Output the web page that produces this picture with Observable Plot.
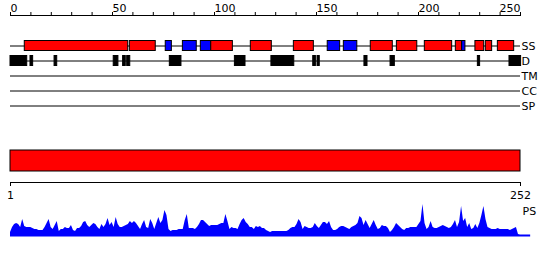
<!DOCTYPE html>
<html><head><meta charset="utf-8">
<script src="https://cdn.jsdelivr.net/npm/d3@7"></script>
<script src="https://cdn.jsdelivr.net/npm/@observablehq/plot@0.6"></script>
<style>
body{margin:0;background:#fff;}
#chart{width:550px;height:260px;position:relative;overflow:hidden;background:#fff}
#chart svg{display:block}
</style></head><body><div id="chart"></div>
<script>
// ---- data ----
const tracks = ["SS", "D", "TM", "CC", "SP"];
const axisLabels = [0, 50, 100, 150, 200, 250];
const axisMax = 250;
const seqStart = 1;
const seqLength = 252;
const psLineEnd = 257;

const ssStart = [7.0, 58.5, 76.1, 84.5, 93.3, 98.4, 117.8, 138.9, 155.5, 163.4, 176.6, 189.4, 203.1, 218.3, 221.4, 227.9, 233.0, 238.9];
const ssEnd   = [57.7, 71.2, 79.1, 91.3, 98.4, 109.0, 128.1, 148.7, 161.6, 170.0, 187.4, 199.4, 216.5, 221.4, 223.0, 232.2, 236.1, 246.9];
const ssType  = ["H", "H", "E", "E", "E", "H", "H", "H", "E", "E", "H", "H", "H", "H", "E", "H", "H", "H"];

const dStart = [0, 9.8, 21.6, 50.6, 55.2, 57.2, 78.1, 110.0, 127.9, 148.4, 150.5, 173.5, 186.3, 229.1, 244.6];
const dEnd   = [8.2, 11.1, 22.9, 52.9, 56.5, 58.7, 83.8, 115.2, 139.1, 149.7, 151.6, 175.0, 188.4, 230.2, 250.3];

const psScores = [
  3, 8, 11, 12, 11, 8, 16, 9, 8, 8,
  8, 7, 6, 6, 5, 5, 5, 8, 12, 16,
  8, 6, 10, 14, 4, 6, 6, 8, 7, 7,
  10, 5, 4, 7, 7, 9, 13, 14, 10, 8,
  10, 12, 11, 8, 6, 11, 8, 11, 17, 10,
  13, 8, 18, 11, 8, 8, 9, 10, 11, 14,
  12, 14, 12, 9, 6, 11, 15, 8, 7, 16,
  12, 6, 12, 18, 12, 15, 25, 20, 6, 4,
  5, 5, 5, 6, 6, 6, 15, 21, 7, 7,
  7, 6, 8, 11, 15, 15, 13, 11, 9, 10,
  10, 10, 10, 11, 12, 12, 21, 14, 6, 8,
  7, 7, 6, 11, 15, 17, 13, 11, 8, 8,
  6, 9, 8, 9, 7, 7, 5, 4, 3, 4,
  4, 4, 4, 4, 4, 4, 4, 5, 7, 8,
  8, 11, 16, 13, 6, 9, 8, 7, 7, 8,
  12, 9, 7, 10, 13, 13, 11, 14, 8, 5,
  5, 6, 8, 9, 9, 8, 7, 6, 8, 9,
  10, 12, 19, 17, 10, 15, 11, 7, 11, 15,
  10, 6, 7, 10, 9, 9, 7, 3, 5, 8,
  12, 10, 8, 6, 5, 7, 7, 8, 8, 8,
  8, 11, 14, 31, 12, 6, 8, 14, 8, 7,
  7, 8, 9, 10, 9, 8, 7, 8, 11, 15,
  8, 13, 29, 14, 17, 8, 12, 6, 7, 11,
  7, 12, 20, 29, 16, 8, 7, 6, 6, 6,
  7, 6, 6, 6, 6, 6, 5, 6, 7, 8,
  1, 0
];

// ---- build ----
const ss = ssStart.map((s, i) => ({track: "SS", x1: s, x2: ssEnd[i], type: ssType[i]}));
const dis = dStart.map((s, i) => ({track: "D", x1: s, x2: dEnd[i]}));
const ps = psScores.map((v, i) => ({pos: seqStart + i, score: v}));

const baseStyle = {fontFamily: "DejaVu Sans", fontSize: "11px", color: "black"};
const common = {width: 550, marginLeft: 10, marginRight: 30};

const p1 = Plot.plot({
  ...common, height: 140, marginTop: 15, marginBottom: 0,
  style: {...baseStyle, background: "white"},
  x: {domain: [0, axisMax]},
  y: {type: "band", domain: tracks, range: [37.5, 112.5], padding: 0},
  color: {type: "ordinal", domain: ["H", "E"], range: ["#ff0000", "#0000ff"]},
  marks: [
    Plot.frame({anchor: "top", stroke: "black"}),
    Plot.axisX({anchor: "top", ticks: d3.range(0, axisMax + 1, 10), tickSize: 4, tickFormat: () => "", label: null}),
    Plot.text(axisLabels.filter(d => d !== axisMax), {x: d => d, frameAnchor: "top", lineAnchor: "bottom", textAnchor: "start", dy: -4}),
    Plot.text(axisLabels.filter(d => d === axisMax), {x: d => d, frameAnchor: "top", lineAnchor: "bottom", textAnchor: "end", dy: -4}),
    Plot.ruleY(tracks, {y: d => d, stroke: "black"}),
    Plot.barX(ss, {x1: "x1", x2: "x2", y: "track", fill: "type", stroke: "black", insetTop: 2.5, insetBottom: 2.5}),
    Plot.barX(dis, {x1: "x1", x2: "x2", y: "track", fill: "black", stroke: "black", insetTop: 2.5, insetBottom: 2.5}),
    Plot.axisY({anchor: "right", tickSize: 0, tickPadding: 1, label: null})
  ]
});

const p2 = Plot.plot({
  ...common, height: 68, marginTop: 10, marginBottom: 26,
  style: {...baseStyle, background: "white", overflow: "visible"},
  x: {domain: [seqStart, seqLength]},
  marks: [
    Plot.rect([{x1: seqStart, x2: seqLength}], {x1: "x1", x2: "x2", fill: "#ff0000", stroke: "black", insetBottom: 11}),
    Plot.frame({anchor: "bottom", stroke: "black"}),
    Plot.axisX({anchor: "bottom", ticks: [seqStart, seqLength], tickSize: 4, tickPadding: 5, label: null})
  ]
});

const p3 = Plot.plot({
  ...common, height: 52, marginTop: 0, marginBottom: 25,
  style: {...baseStyle, background: "transparent", overflow: "visible"},
  x: {domain: [seqStart, seqLength], axis: null},
  y: {domain: [0, 33], range: [27, -6], axis: null},
  marks: [
    Plot.areaY(ps, {x: "pos", y: "score", fill: "#0000ff"}),
    Plot.ruleY([0], {x1: seqStart, x2: psLineEnd, stroke: "#0000ff", strokeWidth: 2}),
    Plot.text(["PS"], {text: d => d, frameAnchor: "top-right", textAnchor: "start", lineAnchor: "middle", dx: 2, dy: 2.5})
  ]
});

p1.style.position = "absolute"; p1.style.left = "0px"; p1.style.top = "0px";
p2.style.position = "absolute"; p2.style.left = "0px"; p2.style.top = "140px";
p3.style.position = "absolute"; p3.style.left = "0px"; p3.style.top = "208px";

const chart = document.getElementById("chart");
chart.append(p1, p2, p3);
</script></body></html>
